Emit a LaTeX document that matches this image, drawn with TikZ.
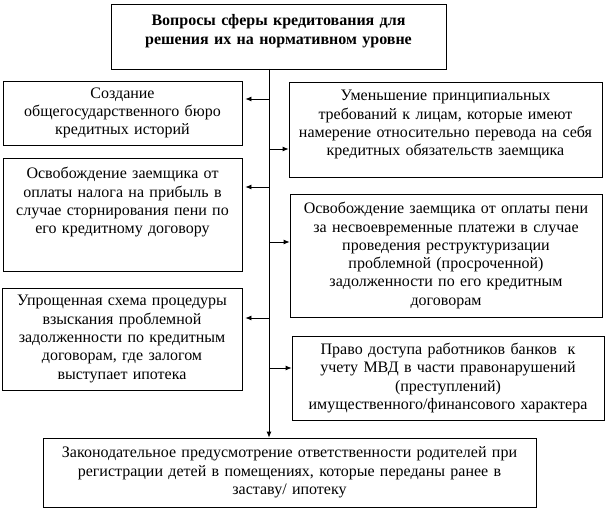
\documentclass[tikz,border=0pt]{standalone}
\usepackage{fontspec}
\setmainfont{Liberation Serif}
\usetikzlibrary{arrows.meta}

\begin{document}
\begin{tikzpicture}[
        x=1pt, y=-1pt,
        box/.style={rectangle, draw, line width=0.8pt, inner sep=0pt, align=center,
          font=\fontsize{16}{18.3}\selectfont},
        arr/.style={-{Latex[length=6pt,width=5pt]}, line width=0.8pt}
      ]
      \useasboundingbox (0,0) rectangle (611,513);

      \node[box, font=\fontsize{16}{19}\selectfont\bfseries, text width=330pt,
            minimum width=335pt, minimum height=65pt, text depth=34pt] (top) at (278.5,36.5)
        {Вопросы сферы кредитования для\\решения их на нормативном уровне};

      \node[box, text width=235pt, minimum width=239pt, minimum height=64pt] (credit) at (122.5,113)
        {Создание\\общегосударственного бюро\\кредитных историй};
      \node[box, text width=235pt, minimum width=239pt, minimum height=113pt, text depth=83pt] (tax) at (122.5,214.5)
        {Освобождение заемщика от\\оплаты налога на прибыль в\\случае сторнирования пени по\\его кредитному договору};
      \node[box, text width=236pt, minimum width=240pt, minimum height=102pt] (mortgage) at (122,339)
        {Упрощенная схема процедуры\\взыскания проблемной\\задолженности по кредитным\\договорам, где залогом\\выступает ипотека};

      \node[box, text width=309pt, minimum width=313pt, minimum height=95pt, text depth=68pt] (transfer) at (445.5,129.5)
        {Уменьшение принципиальных\\требований к лицам, которые имеют\\намерение относительно перевода на себя\\кредитных обязательств заемщика};
      \node[box, text width=308pt, minimum width=312pt, minimum height=123pt] (penalty) at (446,255.5)
        {Освобождение заемщика от оплаты пени\\за несвоевременные платежи в случае\\проведения реструктуризации\\проблемной (просроченной)\\задолженности по его кредитным\\договорам};
      \node[box, text width=308pt, minimum width=312pt, minimum height=84pt] (access) at (448,378)
        {Право доступа работников банков\ \ к\\учету МВД в части правонарушений\\(преступлений)\\имущественного/финансового характера};

      \node[box, text width=489pt, minimum width=493pt, minimum height=69pt] (parents) at (289.5,472.5)
        {Законодательное предусмотрение ответственности родителей при\\регистрации детей в помещениях, которые переданы ранее в\\заставу/ ипотеку};

      % trunk
      \coordinate (trunk) at (269,69);
      \draw[arr] (trunk) -- (trunk |- parents.north);

      % branches
      \coordinate (t1) at (269,99);
      \coordinate (t2) at (269,149);
      \coordinate (t3) at (269,187);
      \coordinate (t4) at (269,242);
      \coordinate (t5) at (269,318);
      \coordinate (t6) at (269,368);
      \draw[arr, shorten >=3pt] (t1) -- (t1 -| credit.east);
      \draw[arr] (t2) -- (t2 -| transfer.west);
      \draw[arr, shorten >=3pt] (t3) -- (t3 -| tax.east);
      \draw[arr] (t4) -- (t4 -| penalty.west);
      \draw[arr, shorten >=3pt] (t5) -- (t5 -| mortgage.east);
      \draw[arr] (t6) -- (t6 -| access.west);
\end{tikzpicture}
\end{document}
